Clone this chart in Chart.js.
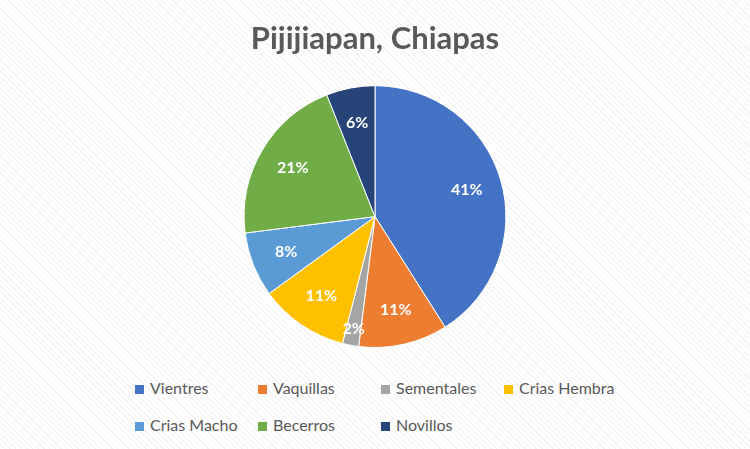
<!DOCTYPE html>
<html><head><meta charset="utf-8">
<script src="https://cdn.jsdelivr.net/npm/chart.js@4"></script>
<style>
body{margin:0;width:750px;height:449px;overflow:hidden;font-family:Lato,"Open Sans",sans-serif;
background:#fff repeating-linear-gradient(45deg,#fff 0 3px,#f2f2f2 3px 4px);}
#wrap{position:absolute;left:0;top:0;width:750px;height:348px}
#leg{position:absolute;left:135px;top:376px;width:500px;font-size:16px;color:#595959}
.it{display:inline-block;width:123px;height:23px;line-height:23px;white-space:nowrap;margin-bottom:14px}
.it span{display:inline-block;width:9px;height:9px;margin-right:6px;vertical-align:0px}
</style></head><body>
<div id="wrap"><canvas id="c"></canvas></div>
<div id="leg"></div>
<script>
const categories=["Vientres","Vaquillas","Sementales","Crias Hembra","Crias Macho","Becerros","Novillos"];
const values=[41,11,2,11,8,21,6];
const colors=["#4472C4","#ED7D31","#A5A5A5","#FFC000","#5B9BD5","#70AD47","#264478"];
const labelPlugin={id:"lbl",afterDatasetsDraw(chart){
 const ctx=chart.ctx;const meta=chart.getDatasetMeta(0);
 ctx.save();ctx.font="bold 16px Lato, sans-serif";ctx.textAlign="center";ctx.textBaseline="middle";
 meta.data.forEach((a,i)=>{const m=(a.startAngle+a.endAngle)/2;const r=a.outerRadius*(values[i]<5?0.87:0.73);
  ctx.fillStyle="#fff";ctx.fillText(values[i]+"%",a.x+Math.cos(m)*r,a.y+Math.sin(m)*r);});
 ctx.restore();}};
new Chart(document.getElementById("c"),{type:"pie",
 data:{labels:categories,datasets:[{data:values,backgroundColor:colors,borderColor:"#fff",borderWidth:1}]},
 options:{responsive:true,maintainAspectRatio:false,animation:false,
  plugins:{legend:{display:false},tooltip:{enabled:false},
   title:{display:true,text:"Pijijiapan, Chiapas",color:"#595959",font:{size:31,weight:"bold",family:"Lato"},padding:{top:20,bottom:28}}}},
 plugins:[labelPlugin]});
const leg=document.getElementById("leg");
categories.forEach((c,i)=>{const d=document.createElement("div");d.className="it";
 d.innerHTML='<span style="background:'+colors[i]+'"></span>'+c;leg.appendChild(d);});
</script></body></html>
